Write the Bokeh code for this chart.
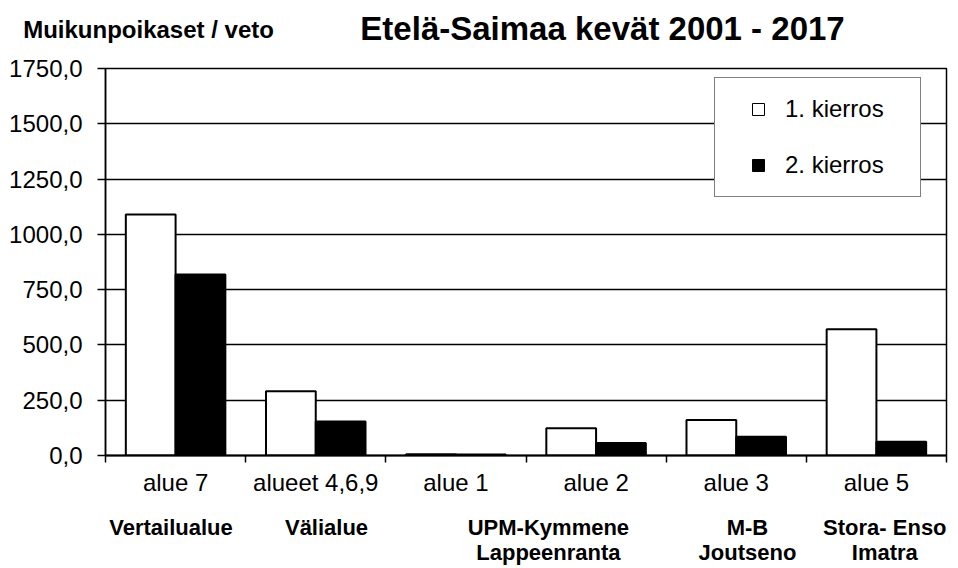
from bokeh.plotting import figure
from bokeh.models import (Range1d, FixedTicker, LinearAxis, Legend, LegendItem, ColumnDataSource)
from bokeh.embed import file_html
from bokeh.resources import INLINE

# ---- data ----
areas = ["alue 7", "alueet 4,6,9", "alue 1", "alue 2", "alue 3", "alue 5"]
round1 = [1090, 291, 6, 123, 160, 571]
round2 = [819, 154, 5, 56, 85, 62]
series_names = ["1. kierros", "2. kierros"]
y_ticks = [0, 250, 500, 750, 1000, 1250, 1500, 1750]
y_tick_labels = ["0,0", "250,0", "500,0", "750,0", "1000,0", "1250,0", "1500,0", "1750,0"]
region_labels = ["Vertailualue", "Välialue", "UPM-Kymmene\nLappeenranta", "M-B\nJoutseno", "Stora- Enso\nImatra"]
region_pos = [-0.033, 1.077, 2.66, 4.08, 5.06]
title_text = "Etelä-Saimaa kevät 2001 - 2017"
title_pos = 3.046
y_title = "Muikunpoikaset / veto"
y_title_pos = -0.193

FONT = "Liberation Sans"
idx = list(range(len(areas)))
bw = 0.355

p = figure(width=958, height=568, x_range=Range1d(-0.5, 5.5), y_range=Range1d(0, 1750),
           output_backend="svg", toolbar_location=None, x_axis_type=None,
           min_border_left=105, min_border_top=68, min_border_right=12, min_border_bottom=113)
p.background_fill_color = "white"
p.border_fill_color = "white"
p.outline_line_color = "black"
p.outline_line_width = 1.5

src = ColumnDataSource(dict(x1=[i - bw / 2 for i in idx], x2=[i + bw / 2 for i in idx],
                            r1=round1, r2=round2))
r1 = p.vbar(x="x1", top="r1", width=bw, bottom=0, source=src,
            fill_color="white", line_color="black", line_width=2)
r2 = p.vbar(x="x2", top="r2", width=bw, bottom=0, source=src,
            fill_color="black", line_color="black", line_width=2)

# y axis
ya = p.yaxis[0]
ya.ticker = FixedTicker(ticks=y_ticks)
ya.major_label_overrides = dict(zip(y_ticks, y_tick_labels))
ya.major_label_text_font = FONT
ya.major_label_text_font_size = "24px"
ya.major_label_text_color = "black"
ya.major_tick_out = 8
ya.major_tick_in = 0
ya.minor_tick_out = 0
ya.minor_tick_in = 0
ya.major_label_standoff = 15
ya.axis_line_color = "black"
ya.axis_line_width = 1.5
ya.major_tick_line_width = 1.5

p.xgrid.visible = False
p.ygrid.ticker = FixedTicker(ticks=y_ticks)
p.ygrid.grid_line_color = "black"
p.ygrid.grid_line_width = 1.5


def text_axis(ticks, labels, size, bold, standoff):
    ax = LinearAxis(ticker=FixedTicker(ticks=ticks, minor_ticks=[]),
                    major_label_overrides=dict(zip(ticks, labels)))
    ax.axis_line_color = None
    ax.major_tick_line_color = None
    ax.minor_tick_line_color = None
    ax.major_tick_out = 0
    ax.major_tick_in = 0
    ax.minor_tick_out = 0
    ax.minor_tick_in = 0
    ax.major_label_standoff = standoff
    ax.major_label_text_font = FONT
    ax.major_label_text_font_style = "bold" if bold else "normal"
    ax.major_label_text_font_size = size
    ax.major_label_text_color = "black"
    return ax


# x axis: labels at category centres, tick marks at boundaries
xa = LinearAxis(ticker=FixedTicker(ticks=idx, minor_ticks=[i - 0.5 for i in range(len(areas) + 1)]),
                major_label_overrides=dict(zip(idx, areas)))
xa.major_tick_out = 0
xa.major_tick_in = 0
xa.minor_tick_out = 7
xa.minor_tick_in = 0
xa.minor_tick_line_color = "black"
xa.minor_tick_line_width = 1.5
xa.major_label_standoff = 6
xa.major_label_text_font = FONT
xa.major_label_text_font_size = "24px"
xa.major_label_text_color = "black"
xa.axis_line_color = "black"
xa.axis_line_width = 2
p.add_layout(xa, "below")

# second row of category labels (bold region names)
xb = text_axis(region_pos, region_labels, "22px", True, 16)
xb.major_label_text_line_height = 1.0
p.add_layout(xb, "below")

# texts above the plot: value axis title and chart title
top_m = text_axis([y_title_pos], [y_title], "24px", True, 26)
p.add_layout(top_m, "above")
top_t = text_axis([title_pos], [title_text], "33px", True, -34)
p.add_layout(top_t, "above")

# legend keys: markers sized to zero on the plot, the legend sizes its own key
k1 = p.scatter(x="x1", y="r1", source=src, marker="square", size=0,
               fill_color="white", line_color="black", line_width=1)
k2 = p.scatter(x="x2", y="r2", source=src, marker="square", size=0,
               fill_color="black", line_color="black", line_width=1)
legend = Legend(items=[LegendItem(label=series_names[0], renderers=[k1]),
                       LegendItem(label=series_names[1], renderers=[k2])],
                location=(609, 258), orientation="vertical")
legend.margin = 0
legend.padding = 16
legend.spacing = 26
legend.glyph_width = 54
legend.glyph_height = 30
legend.label_height = 30
legend.label_width = 119
legend.label_standoff = 0
legend.label_text_font = FONT
legend.label_text_font_size = "24px"
legend.label_text_color = "black"
legend.border_line_color = "black"
legend.border_line_width = 1.5
legend.background_fill_color = "white"
legend.background_fill_alpha = 1.0
p.add_layout(legend, "center")

open("out.html", "w").write(file_html(p, INLINE))
